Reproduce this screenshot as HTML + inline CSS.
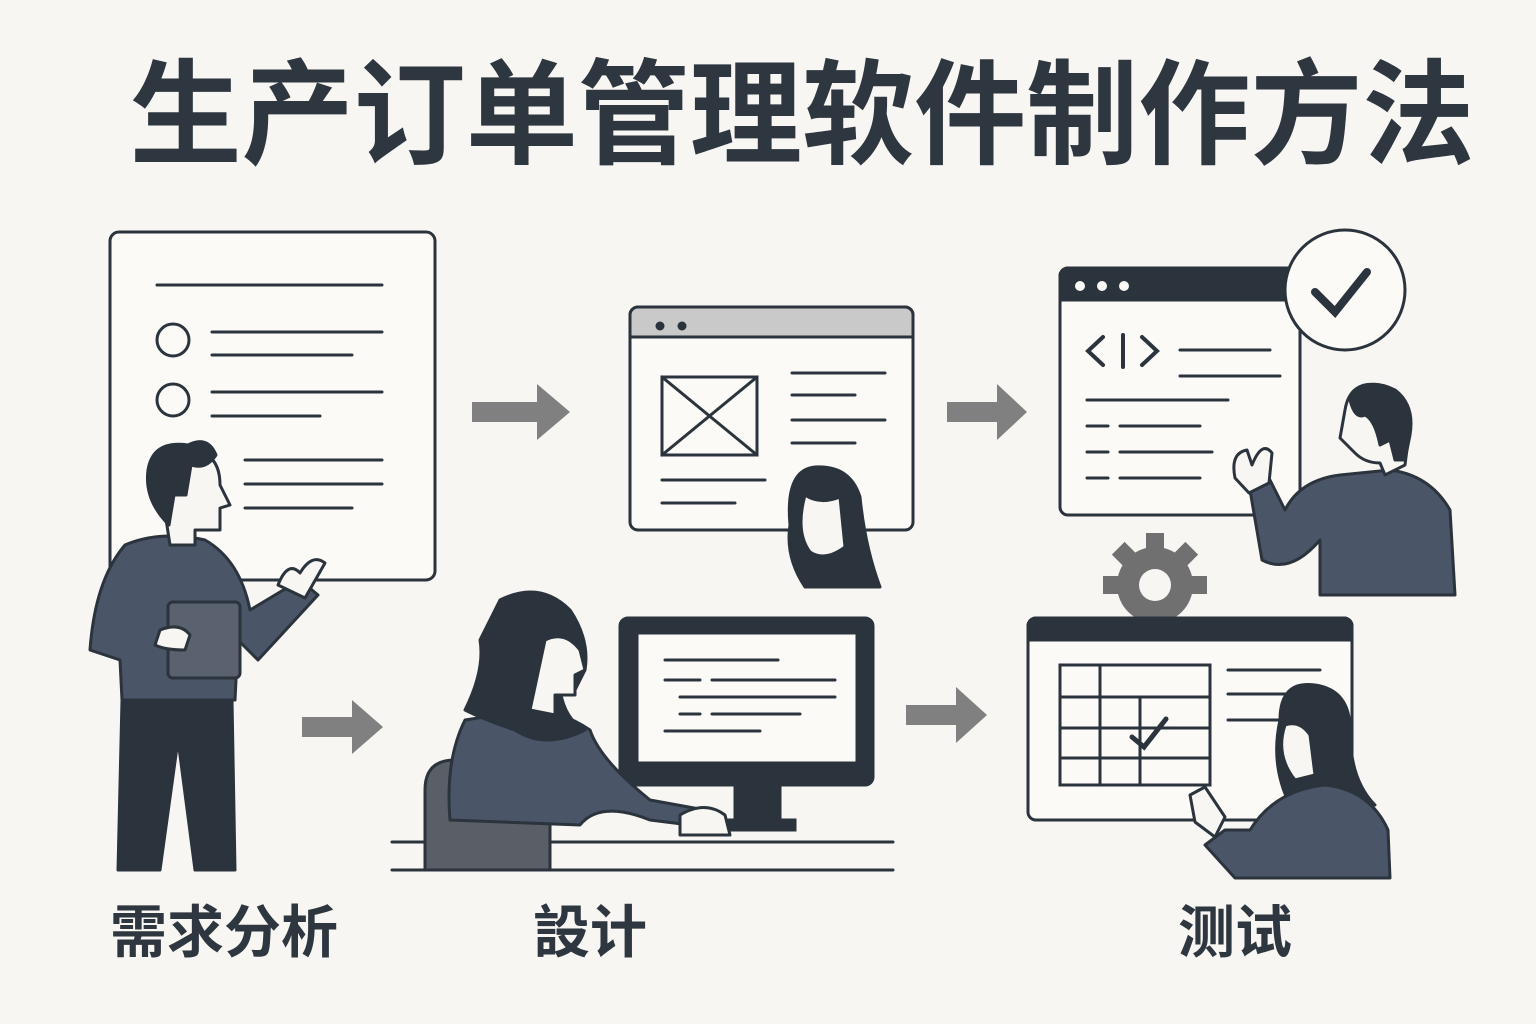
<!DOCTYPE html>
<html><head><meta charset="utf-8"><style>
html,body{margin:0;padding:0;background:#f8f6f2;}
svg{display:block}
text{font-family:"Liberation Sans","Noto Sans CJK SC",sans-serif;font-weight:bold;fill:#2e3640}
</style></head><body>
<svg width="1536" height="1024" viewBox="0 0 1536 1024" xmlns="http://www.w3.org/2000/svg">
<rect width="1536" height="1024" fill="#f8f6f2"/>
<text x="802" y="155" font-size="114" text-anchor="middle" textLength="1345" lengthAdjust="spacingAndGlyphs">生产订单管理软件制作方法</text>

<!-- gear (behind window 5) -->
<g transform="translate(1155,585)" fill="#707070">
<circle r="38"/>
<rect x="-9" y="-52" width="18" height="18"/><rect x="-52" y="-9" width="18" height="18"/><rect x="34" y="-9" width="18" height="18"/>
<rect x="-9" y="-52" width="18" height="18" transform="rotate(45)"/><rect x="-9" y="-52" width="18" height="18" transform="rotate(-45)"/>
<circle r="16" fill="#f8f6f2"/>
</g>

<g stroke="#2b333d" stroke-width="3" fill="none" stroke-linecap="round">
<!-- panel 1 -->
<rect x="110" y="232" width="325" height="348" rx="9" fill="#fbfaf7"/>
<line x1="157" y1="285" x2="382" y2="285"/>
<circle cx="173" cy="340" r="16"/><circle cx="173" cy="400" r="16"/>
<line x1="212" y1="332" x2="382" y2="332"/><line x1="212" y1="355" x2="352" y2="355"/>
<line x1="212" y1="392" x2="382" y2="392"/><line x1="212" y1="416" x2="320" y2="416"/>
<line x1="245" y1="460" x2="382" y2="460"/><line x1="245" y1="484" x2="382" y2="484"/><line x1="245" y1="508" x2="352" y2="508"/>

<!-- browser 2 -->
<rect x="630" y="307" width="283" height="223" rx="8" fill="#fbfaf7"/>
<path d="M630 337 V315 a8 8 0 0 1 8 -8 H905 a8 8 0 0 1 8 8 V337 Z" fill="#c9c9c9"/>
<rect x="662" y="377" width="95" height="78"/>
<line x1="662" y1="377" x2="757" y2="455"/><line x1="757" y1="377" x2="662" y2="455"/>
<line x1="792" y1="373" x2="885" y2="373"/><line x1="792" y1="395" x2="855" y2="395"/>
<line x1="792" y1="420" x2="885" y2="420"/><line x1="792" y1="443" x2="855" y2="443"/>
<line x1="662" y1="480" x2="765" y2="480"/><line x1="662" y1="503" x2="735" y2="503"/>

<!-- code window 3 -->
<rect x="1060" y="268" width="240" height="247" rx="8" fill="#fbfaf7"/>
<path d="M1060 300 V276 a8 8 0 0 1 8 -8 H1292 a8 8 0 0 1 8 8 V300 Z" fill="#2b333d"/>
<circle cx="1345" cy="290" r="60" fill="#fbfaf7"/>
<path d="M1315 292 l20 20 l32 -40" stroke-width="8"/>
<path d="M1103 337 l-15 14 l15 14 M1142 337 l15 14 l-15 14 M1123 335 v32" stroke-width="4"/>
<line x1="1180" y1="350" x2="1270" y2="350"/><line x1="1180" y1="376" x2="1280" y2="376"/>
<line x1="1087" y1="400" x2="1228" y2="400"/>
<line x1="1087" y1="426" x2="1108" y2="426"/><line x1="1120" y1="426" x2="1200" y2="426"/>
<line x1="1087" y1="452" x2="1108" y2="452"/><line x1="1120" y1="452" x2="1212" y2="452"/>
<line x1="1087" y1="478" x2="1108" y2="478"/><line x1="1120" y1="478" x2="1200" y2="478"/>

<!-- window 5 -->
<rect x="1028" y="618" width="324" height="202" rx="8" fill="#fbfaf7"/>
<path d="M1028 640 V626 a8 8 0 0 1 8 -8 H1344 a8 8 0 0 1 8 8 V640 Z" fill="#2b333d"/>
<rect x="1060" y="665" width="150" height="120"/>
<line x1="1060" y1="697" x2="1210" y2="697"/><line x1="1060" y1="728" x2="1210" y2="728"/><line x1="1060" y1="758" x2="1210" y2="758"/>
<line x1="1100" y1="665" x2="1100" y2="785"/><line x1="1140" y1="697" x2="1140" y2="785"/>
<path d="M1132 737 l12 10 l22 -28" stroke-width="5"/>
<line x1="1228" y1="670" x2="1320" y2="670"/><line x1="1228" y1="694" x2="1320" y2="694"/><line x1="1228" y1="720" x2="1300" y2="720"/>

<!-- monitor 4 -->
<rect x="620" y="618" width="253" height="167" rx="8" fill="#2b333d"/>
<rect x="637" y="633" width="220" height="130" fill="#fbfaf7"/>
<line x1="665" y1="660" x2="778" y2="660"/>
<line x1="665" y1="680" x2="700" y2="680"/><line x1="712" y1="680" x2="835" y2="680"/>
<line x1="680" y1="697" x2="835" y2="697"/>
<line x1="680" y1="714" x2="700" y2="714"/><line x1="712" y1="714" x2="800" y2="714"/>
<line x1="665" y1="731" x2="760" y2="731"/>
<path d="M735 785 h45 v35 h-45 Z" fill="#2b333d"/>
<rect x="715" y="820" width="80" height="10" fill="#2b333d"/>
<line x1="392" y1="842" x2="893" y2="842"/><line x1="392" y1="870" x2="893" y2="870"/>
</g>

<!-- window dots -->
<g fill="#2b333d"><circle cx="660" cy="326" r="4.5"/><circle cx="682" cy="326" r="4.5"/></g>
<g fill="#fbfaf7"><circle cx="1080" cy="286" r="5"/><circle cx="1102" cy="286" r="5"/><circle cx="1124" cy="286" r="5"/></g>

<!-- arrows -->
<g fill="#808080">
<path d="M472 402 h65 v-18 l33 28 l-33 28 v-18 h-65 Z"/>
<path d="M302 717 h50 v-17 l31 27 l-31 27 v-17 h-50 Z"/>
<path d="M947 402 h50 v-18 l30 28 l-30 28 v-18 h-50 Z"/>
<path d="M906 705 h50 v-18 l31 28 l-31 28 v-18 h-50 Z"/>
</g>

<g stroke="#2b333d" stroke-width="3" stroke-linejoin="round">
<!-- man 1 -->
<path d="M122 700 L118 870 H160 L178 740 L195 870 H235 L232 700 Z" fill="#2b333d"/>
<path d="M125 545 Q160 530 205 540 Q240 560 250 610 L300 580 L318 595 L258 660 L238 640 L235 700 H122 L120 660 L90 650 Q95 580 125 545 Z" fill="#4a5568"/>
<path d="M278 585 q10 -25 22 -12 q12 -20 25 -10 l-20 35 Z" fill="#f8f6f2"/>
<rect x="168" y="602" width="72" height="76" rx="5" fill="#5a6270"/>
<path d="M160 630 q20 -8 30 5 l-5 15 q-20 0 -30 -5 Z" fill="#f8f6f2"/>
<path d="M160 480 q0 -35 35 -30 q25 5 25 35 l10 20 l-10 3 l0 22 l-25 0 l0 15 l-25 0 Z" fill="#f8f6f2"/>
<path d="M148 470 q5 -30 40 -25 q20 -10 28 10 q-10 15 -25 10 l-5 30 l-12 0 l-5 30 q-25 -25 -21 -55 Z" fill="#2b333d"/>

<!-- woman 2 head -->
<path d="M790 525 q-5 -55 25 -58 q35 -2 45 30 q5 50 20 90 H805 q-20 -30 -15 -62 Z" fill="#2b333d"/>
<path d="M805 495 q15 10 35 2 l5 50 q-20 15 -35 5 q-15 -20 -5 -57 Z" fill="#f8f6f2"/>

<!-- man 3 -->
<path d="M1340 475 Q1300 480 1285 510 L1270 480 L1250 490 L1262 560 Q1290 575 1320 540 L1320 595 H1455 L1450 510 Q1430 475 1390 470 Z" fill="#4a5568"/>
<path d="M1235 478 q-5 -25 12 -28 l5 15 q10 -25 20 -12 l-3 30 l-20 10 Z" fill="#f8f6f2"/>
<path d="M1345 410 q5 -30 35 -25 q30 5 30 40 l-5 40 l-20 10 l-5 -12 q-15 0 -25 -10 l-15 -15 Z" fill="#f8f6f2"/>
<path d="M1350 400 q15 -25 45 -10 q20 15 15 45 l-5 25 l-10 0 l-5 -20 l-10 5 q-5 -25 -15 -30 q-10 5 -15 -15 Z" fill="#2b333d"/>

<!-- woman 4 -->
<path d="M425 790 q0 -30 30 -30 h70 q25 0 25 30 v80 H425 Z" fill="#5a5f66"/>
<path d="M465 720 q-20 40 -15 100 L580 825 Q600 800 650 820 L690 825 L705 810 L650 800 Q600 760 590 730 Q560 710 530 710 Z" fill="#4a5568"/>
<path d="M680 815 q25 -15 45 0 l5 20 h-50 Z" fill="#f8f6f2"/>
<path d="M500 600 q40 -20 70 10 q20 30 15 60 l-10 20 h-15 q5 30 25 40 q-40 20 -70 0 q-30 -10 -50 -20 q20 -40 15 -70 Z" fill="#2b333d"/>
<path d="M545 640 q20 -10 35 10 l5 20 l-10 5 l0 20 l-20 0 l0 20 l-25 -5 Z" fill="#f8f6f2"/>

<!-- woman 5 -->
<path d="M1280 720 q0 -40 35 -35 q35 5 35 45 q0 50 25 75 h-85 q-20 -40 -10 -85 Z" fill="#2b333d"/>
<path d="M1285 725 q15 -5 25 10 l5 40 l-20 5 q-20 -25 -10 -55 Z" fill="#f8f6f2"/>
<path d="M1250 830 Q1275 790 1325 785 Q1370 790 1388 830 L1390 878 H1235 L1205 845 L1225 830 Z" fill="#4a5568"/>
<path d="M1190 795 l15 -8 l20 30 l-10 20 l-20 -15 Z" fill="#f8f6f2"/>
</g>

<text x="110" y="952" font-size="57">需求分析</text>
<text x="533" y="952" font-size="57">設计</text>
<text x="1178" y="952" font-size="57">测试</text>
</svg>
</body></html>
